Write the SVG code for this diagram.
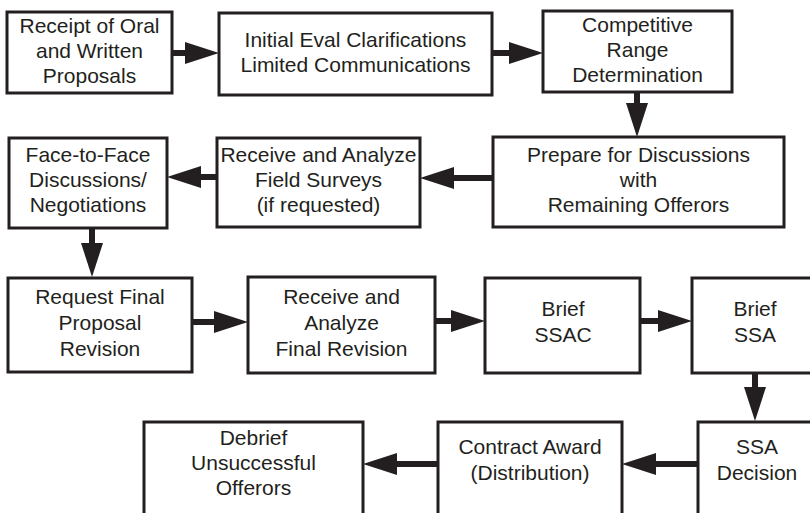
<svg xmlns="http://www.w3.org/2000/svg" width="810" height="513" viewBox="0 0 810 513">
<style>
.box{fill:#fff;stroke:#231f20;stroke-width:3}
.lbl{font-family:"Liberation Sans",Arial,sans-serif;font-size:21px;fill:#231f20;text-anchor:middle}
.conn{stroke:#231f20;stroke-width:6;fill:none;marker-end:url(#ah)}
</style>
<defs>
<marker id="ah" markerUnits="userSpaceOnUse" markerWidth="36" markerHeight="24" viewBox="0 -12 36 24" refX="0" refY="0" orient="auto">
<path d="M0,-11 L34,0 L0,11 Z" fill="#231f20"/>
</marker>
</defs>
<rect width="810" height="513" fill="#fff"/>
<g id="connectors">
<line class="conn" x1="172" y1="53" x2="185" y2="53"/>
<line class="conn" x1="492" y1="53" x2="509" y2="53"/>
<line class="conn" x1="637" y1="92" x2="637" y2="103"/>
<line class="conn" x1="493" y1="178" x2="454" y2="178"/>
<line class="conn" x1="217" y1="177" x2="201" y2="177"/>
<line class="conn" x1="92" y1="228" x2="92" y2="243"/>
<line class="conn" x1="192" y1="322" x2="214" y2="322"/>
<line class="conn" x1="435" y1="321" x2="451" y2="321"/>
<line class="conn" x1="640" y1="321" x2="658" y2="321"/>
<line class="conn" x1="755" y1="373" x2="755" y2="387"/>
<line class="conn" x1="698" y1="464" x2="656" y2="464"/>
<line class="conn" x1="438" y1="464" x2="397" y2="464"/>
</g>
<g id="n1"><rect class="box" x="7" y="12" width="165" height="81"/>
<text class="lbl" x="89.5" y="33">Receipt of Oral</text><text class="lbl" x="89.5" y="58">and Written</text><text class="lbl" x="89.5" y="83">Proposals</text></g>
<g id="n2"><rect class="box" x="219" y="13" width="273" height="82"/>
<text class="lbl" x="355.5" y="47">Initial Eval Clarifications</text><text class="lbl" x="355.5" y="72">Limited Communications</text></g>
<g id="n3"><rect class="box" x="543" y="11" width="189" height="81"/>
<text class="lbl" x="637.5" y="32">Competitive</text><text class="lbl" x="637.5" y="57">Range</text><text class="lbl" x="637.5" y="82">Determination</text></g>
<g id="n4"><rect class="box" x="493" y="137" width="291" height="90"/>
<text class="lbl" x="638.5" y="162">Prepare for Discussions</text><text class="lbl" x="638.5" y="187">with</text><text class="lbl" x="638.5" y="212">Remaining Offerors</text></g>
<g id="n5"><rect class="box" x="217" y="138" width="203" height="89"/>
<text class="lbl" x="318.5" y="162">Receive and Analyze</text><text class="lbl" x="318.5" y="187">Field Surveys</text><text class="lbl" x="318.5" y="212">(if requested)</text></g>
<g id="n6"><rect class="box" x="9" y="138" width="158" height="90"/>
<text class="lbl" x="88" y="162">Face-to-Face</text><text class="lbl" x="88" y="187">Discussions/</text><text class="lbl" x="88" y="212">Negotiations</text></g>
<g id="n7"><rect class="box" x="8" y="278" width="184" height="94"/>
<text class="lbl" x="100" y="304">Request Final</text><text class="lbl" x="100" y="330">Proposal</text><text class="lbl" x="100" y="356">Revision</text></g>
<g id="n8"><rect class="box" x="248" y="277" width="187" height="96"/>
<text class="lbl" x="341.5" y="304">Receive and</text><text class="lbl" x="341.5" y="330">Analyze</text><text class="lbl" x="341.5" y="356">Final Revision</text></g>
<g id="n9"><rect class="box" x="485" y="278" width="155" height="95"/>
<text class="lbl" x="563" y="316">Brief</text><text class="lbl" x="563" y="342">SSAC</text></g>
<g id="n10"><rect class="box" x="692" y="278" width="130" height="95"/>
<text class="lbl" x="755" y="316">Brief</text><text class="lbl" x="755" y="342">SSA</text></g>
<g id="n11"><rect class="box" x="698" y="422" width="125" height="100"/>
<text class="lbl" x="757" y="454">SSA</text><text class="lbl" x="757" y="480">Decision</text></g>
<g id="n12"><rect class="box" x="438" y="422" width="184" height="100"/>
<text class="lbl" x="530" y="454">Contract Award</text><text class="lbl" x="530" y="480">(Distribution)</text></g>
<g id="n13"><rect class="box" x="144" y="422" width="219" height="100"/>
<text class="lbl" x="253.5" y="445">Debrief</text><text class="lbl" x="253.5" y="470">Unsuccessful</text><text class="lbl" x="253.5" y="495">Offerors</text></g>
</svg>
